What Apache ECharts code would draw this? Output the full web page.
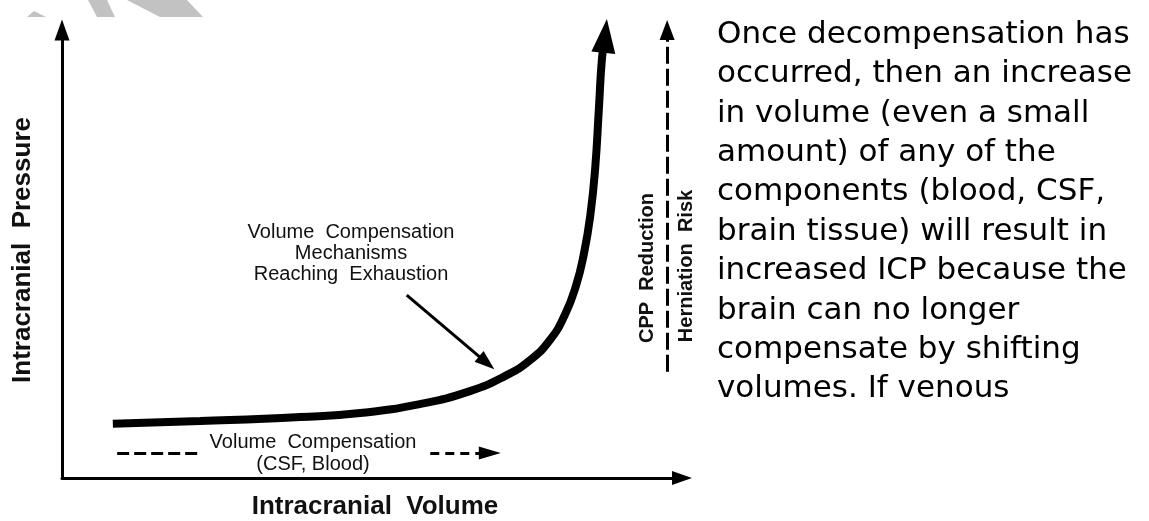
<!DOCTYPE html>
<html>
<head>
    <meta charset="utf-8">
    <title>Intracranial Pressure - Volume</title>
    <script src="https://cdn.jsdelivr.net/npm/echarts@6/dist/echarts.min.js"></script>
    <style>
        html, body { margin: 0; padding: 0; background: #fff; }
        #chart1 { width: 1149px; height: 521px; }
    </style>
</head>
<body>
<div id="chart1"></div>
<script type="text/javascript">

    // pressure-volume curve (arbitrary units, 0..100 on both axes)
    var volume = [8.2, 22.3, 38.4, 48.1, 57.7, 65.8, 71.5, 75.5, 78.7, 81.1, 82.9, 84.2, 85.2, 86.0, 86.6, 87.1, 87.6];
    var pressure = [12.1, 12.7, 13.6, 14.5, 16.5, 19.4, 22.8, 26.3, 30.8, 36.4, 42.9, 50.2, 58.5, 69.2, 82.6, 93.8, 98.7];

    // annotation arrows [start, end] in the same units
    var riskArrow = [[97.6, 23.7], [97.6, 100]];
    var compLeft = [[8.9, 5.6], [21.9, 5.6]];
    var compRight = [[59.4, 5.6], [69.0, 5.6]];
    var exhaustArrow = [[55.6, 40.8], [68.5, 25.7]];

    var paragraph = [
        'Once decompensation has',
        'occurred, then an increase',
        'in volume (even a small',
        'amount) of any of the',
        'components (blood, CSF,',
        'brain tissue) will result in',
        'increased ICP because the',
        'brain can no longer',
        'compensate by shifting',
        'volumes. If venous'
    ];

    var myChart1 = echarts.init(document.getElementById('chart1'));

    var curveData = volume.map(function (v, i) {
        return [v, pressure[i]];
    });
    // arrow head on the last point
    var last = curveData.pop();
    curveData.push({value: last, symbol: 'triangle', symbolSize: [24, 34], symbolRotate: -6});

    function seg(pair, dash, head) {
        return [
            {coord: pair[0], symbol: 'none', lineStyle: {type: dash}},
            {coord: pair[1], symbol: head ? 'triangle' : 'none', symbolSize: head || 0}
        ];
    }

    var axisCommon = {
        type: 'value',
        min: 0,
        max: 100,
        splitLine: {show: false},
        axisTick: {show: false},
        axisLabel: {show: false}
    };

    var font = '"Liberation Sans", Arial, sans-serif';

    myChart1.setOption({
        backgroundColor: '#fff',
        animation: false,
        grid: {left: 62, right: 467, top: 30, bottom: 43},
        xAxis: Object.assign({}, axisCommon, {
            axisLine: {
                show: true, onZero: false,
                symbol: ['none', 'triangle'], symbolSize: [14, 20],
                lineStyle: {color: '#000', width: 3}
            }
        }),
        yAxis: Object.assign({}, axisCommon, {
            axisLine: {
                show: true, onZero: false,
                symbol: ['none', 'triangle'], symbolSize: [15, 21],
                lineStyle: {color: '#000', width: 3}
            }
        }),
        series: [{
            type: 'line',
            data: curveData,
            smooth: 0.5,
            clip: false,
            symbol: 'none',
            showSymbol: true,
            lineStyle: {color: '#000', width: 8, cap: 'butt'},
            itemStyle: {color: '#000'},
            markLine: {
                silent: true,
                animation: false,
                label: {show: false},
                lineStyle: {color: '#000', width: 3},
                data: [
                    seg(riskArrow, [17, 5], [15, 20]),
                    seg(compLeft, [12, 5]),
                    seg(compRight, [9, 6], [13, 22]),
                    seg(exhaustArrow, 'solid', [14, 20])
                ]
            }
        }],
        graphic: [
            // grey watermark remains at the top edge
            {type: 'polygon', z: -1, shape: {points: [[27, 17], [34, 11], [46, 17]]}, style: {fill: '#c2c2c2'}},
            {type: 'polygon', z: -1, shape: {points: [[88, 0], [107, 0], [115, 17], [97, 17]]}, style: {fill: '#c2c2c2'}},
            {type: 'polygon', z: -1, shape: {points: [[127, 0], [187, 0], [203, 17], [160, 17]]}, style: {fill: '#c2c2c2'}},
            {
                type: 'text', x: 23, y: 250, rotation: Math.PI / 2,
                style: {text: 'Intracranial  Pressure', font: 'bold 26px ' + font, fill: '#111', align: 'center', verticalAlign: 'middle'}
            },
            {
                type: 'text', x: 375, y: 507,
                style: {text: 'Intracranial  Volume', font: 'bold 26px ' + font, fill: '#111', align: 'center', verticalAlign: 'middle'}
            },
            {
                type: 'text', x: 351, y: 222,
                style: {
                    text: 'Volume  Compensation\nMechanisms\nReaching  Exhaustion',
                    font: '20px ' + font, lineHeight: 21, fill: '#111', align: 'center', verticalAlign: 'top'
                }
            },
            {
                type: 'text', x: 313, y: 431,
                style: {
                    text: 'Volume  Compensation\n(CSF, Blood)',
                    font: '20px ' + font, lineHeight: 22, fill: '#111', align: 'center', verticalAlign: 'top'
                }
            },
            {
                type: 'text', x: 647, y: 268, rotation: Math.PI / 2,
                style: {text: 'CPP  Reduction', font: 'bold 20px ' + font, fill: '#111', align: 'center', verticalAlign: 'middle'}
            },
            {
                type: 'text', x: 686, y: 266, rotation: Math.PI / 2,
                style: {text: 'Herniation  Risk', font: 'bold 20px ' + font, fill: '#111', align: 'center', verticalAlign: 'middle'}
            },
            {
                type: 'text', x: 717, y: 15,
                style: {
                    text: paragraph.join('\n'),
                    font: '31px "DejaVu Sans", Verdana, sans-serif', lineHeight: 39.4, fill: '#000',
                    align: 'left', verticalAlign: 'top'
                }
            }
        ]
    });

</script>
</body>
</html>
